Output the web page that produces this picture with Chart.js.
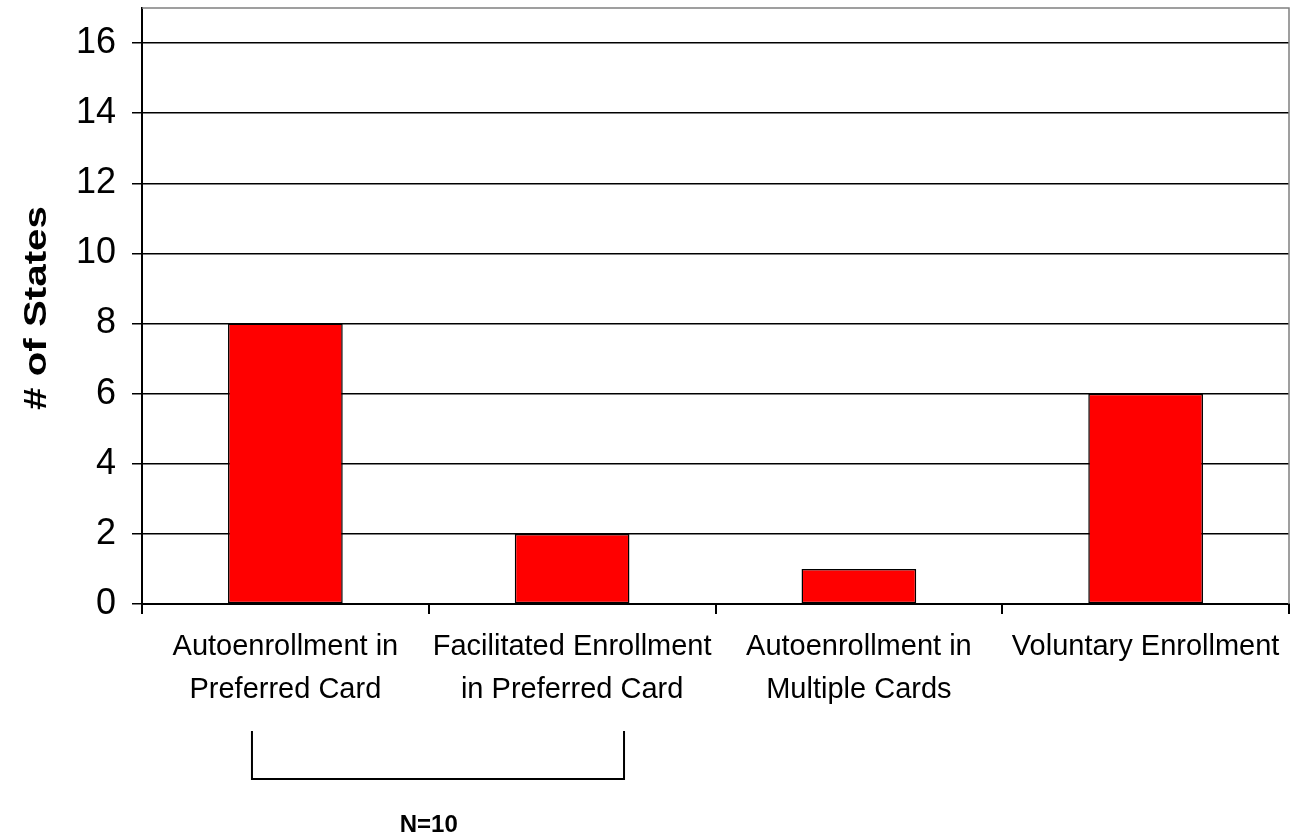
<!DOCTYPE html>
<html>
<head>
<meta charset="utf-8">
<script src="https://cdn.jsdelivr.net/npm/chart.js@4/dist/chart.umd.min.js"></script>
<style>
  html, body { margin: 0; padding: 0; background: #fff; }
  #wrap { width: 1290px; height: 834px; }
</style>
</head>
<body>
<div id="wrap"><canvas id="chart" width="1290" height="834"></canvas></div>
<script>
// Enrollment approaches and number of states using each
const categories = [
  ['Autoenrollment in', 'Preferred Card'],
  ['Facilitated Enrollment', 'in Preferred Card'],
  ['Autoenrollment in', 'Multiple Cards'],
  ['Voluntary Enrollment']
];
const stateCounts = [8, 2, 1, 6];
const yTicks = [0, 2, 4, 6, 8, 10, 12, 14, 16];
const yAxisTitle = '# of States';
const groupLabel = 'N=10';
// first and last category covered by the bracket
const groupRange = [0, 1];

const FONT = '"Liberation Sans", Arial, Helvetica, sans-serif';

const decorations = {
  id: 'decorations',
  afterDraw(chart) {
    const { ctx, chartArea, scales } = chart;
    const x = scales.x;
    ctx.save();

    // grey frame on top and right of the plot
    ctx.strokeStyle = '#808080';
    ctx.lineWidth = 1.5;
    ctx.beginPath();
    ctx.moveTo(chartArea.left, chartArea.top);
    ctx.lineTo(chartArea.right, chartArea.top);
    ctx.lineTo(chartArea.right, chartArea.bottom);
    ctx.stroke();

    // rotated, stretched axis title
    ctx.fillStyle = '#000';
    ctx.font = 'bold 31px ' + FONT;
    ctx.textAlign = 'center';
    ctx.textBaseline = 'middle';
    ctx.translate(37, (chartArea.top + chartArea.bottom) / 2 + 2);
    ctx.rotate(-Math.PI / 2);
    ctx.scale(1.3, 1);
    ctx.fillText(yAxisTitle, 0, 0);
    ctx.setTransform(1, 0, 0, 1, 0, 0);

    // bracket grouping the preferred-card approaches
    const bl = x.getPixelForValue(groupRange[0] - 0.1165);
    const br = x.getPixelForValue(groupRange[1] + 0.181);
    const top = 731, bot = 779;
    ctx.strokeStyle = '#000';
    ctx.lineWidth = 2;
    ctx.beginPath();
    ctx.moveTo(bl, top);
    ctx.lineTo(bl, bot);
    ctx.lineTo(br, bot);
    ctx.lineTo(br, top);
    ctx.stroke();

    ctx.font = 'bold 24px ' + FONT;
    ctx.textAlign = 'center';
    ctx.textBaseline = 'alphabetic';
    ctx.fillText(groupLabel, x.getPixelForValue((groupRange[0] + groupRange[1]) / 2), 832);
    ctx.restore();
  }
};

new Chart(document.getElementById('chart'), {
  type: 'bar',
  data: {
    labels: categories,
    datasets: [{
      data: stateCounts,
      backgroundColor: '#FF0000',
      borderColor: '#000000',
      borderWidth: 1.5,
      borderSkipped: false,
      categoryPercentage: 1,
      barPercentage: 0.4
    }]
  },
  options: {
    responsive: false,
    animation: false,
    layout: { padding: { top: 8, right: 1, left: 0, bottom: 0 } },
    plugins: { legend: { display: false }, tooltip: { enabled: false } },
    scales: {
      x: {
        grid: { offset: true, drawOnChartArea: false, color: '#000', lineWidth: 2, tickLength: 10 },
        border: { color: '#000', width: 2 },
        ticks: {
          color: '#000',
          font: { family: FONT, size: 29, lineHeight: 1.48 },
          padding: 12,
          maxRotation: 0,
          autoSkip: false
        },
        afterFit(scale) { scale.height = 230; scale.paddingLeft = 0; scale.paddingRight = 0; }
      },
      y: {
        min: 0,
        max: 17,
        afterBuildTicks(scale) { scale.ticks = yTicks.map(v => ({ value: v })); },
        grid: { color: '#000', lineWidth: 1.5, tickLength: 10 },
        border: { color: '#000', width: 2 },
        ticks: {
          color: '#000',
          font: { family: FONT, size: 36 },
          padding: 16
        },
        afterFit(scale) { scale.width = 142; scale.paddingTop = 0; scale.paddingBottom = 0; }
      }
    }
  },
  plugins: [decorations]
});
</script>
</body>
</html>
